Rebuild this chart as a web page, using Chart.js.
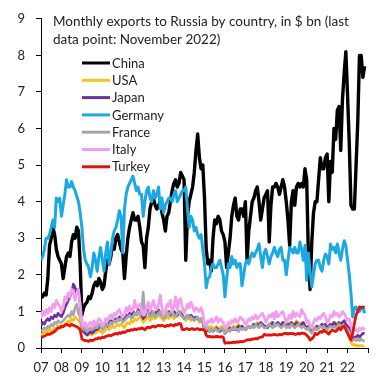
<!DOCTYPE html>
<html><head><meta charset="utf-8">
<script src="https://cdn.jsdelivr.net/npm/chart.js@4.4.0/dist/chart.umd.min.js"></script>
<style>html,body{margin:0;padding:0;background:#fff}#wrap{width:383px;height:380px;position:relative}</style>
</head><body><div id="wrap"><canvas id="c" width="383" height="380"></canvas></div>
<script>
// Year tick labels (first month of each year)
const yearLabels = ['07','08','09','10','11','12','13','14','15','16','17','18','19','20','21','22'];
const titleLines = ['Monthly exports to Russia by country, in $ bn (last', 'data point: November 2022)'];
const seriesNames = ['China','USA','Japan','Germany','France','Italy','Turkey'];

// Monthly values, $ bn, Jan 2007 .. Nov 2022
const china = [
 1.45,1.4,1.5,1.45,1.9,2.8,3.0,3.3,3.1,2.7,2.5,2.4,
 2.3,1.9,2.2,2.5,2.6,2.5,2.9,3.1,3.0,3.3,3.2,2.3,
 0.9,1.1,1.2,1.25,1.4,1.35,1.5,1.7,1.8,1.7,1.9,1.8,
 1.6,1.7,2.1,2.4,2.3,2.5,2.8,2.7,3.0,3.1,2.9,2.7,
 2.6,1.9,2.5,3.0,3.3,3.5,3.7,3.5,3.5,3.6,3.3,2.9,
 2.8,2.2,3.0,3.3,3.8,4.0,4.1,3.9,3.8,3.9,4.0,3.7,
 3.5,3.2,3.6,3.7,4.0,4.3,4.5,4.6,4.4,4.5,4.8,4.7,
 4.6,2.4,3.6,4.0,4.2,4.4,4.8,5.4,5.85,5.2,4.9,5.0,
 4.1,2.7,2.3,2.4,2.1,3.0,3.5,3.4,3.6,3.5,3.2,3.1,
 2.9,2.2,2.6,3.0,3.6,3.9,4.1,3.6,3.5,3.8,3.8,3.6,
 4.0,2.4,3.2,3.6,4.0,4.1,4.3,4.4,4.0,3.5,3.8,4.1,
 4.2,4.3,2.9,3.9,4.4,4.4,4.5,4.4,4.2,4.4,4.6,4.4,
 4.0,3.5,2.8,4.0,4.3,3.9,4.4,4.5,4.4,4.5,4.4,4.9,
 4.6,2.5,1.6,2.9,3.7,4.0,4.0,4.6,5.2,4.9,4.9,5.2,
 5.3,4.0,5.1,4.8,6.0,5.7,6.5,6.6,5.4,6.8,7.5,8.1,
 6.9,5.6,3.9,3.8,3.8,5.0,6.2,8.0,8.0,7.4,7.7
];
const usa = [
 0.35,0.4,0.45,0.4,0.45,0.5,0.45,0.5,0.55,0.5,0.6,0.55,
 0.55,0.6,0.65,0.7,0.75,0.7,0.8,0.75,0.85,0.8,0.75,0.7,
 0.5,0.45,0.4,0.45,0.35,0.4,0.35,0.45,0.4,0.45,0.5,0.45,
 0.4,0.45,0.5,0.55,0.5,0.55,0.6,0.55,0.6,0.65,0.6,0.65,
 0.6,0.55,0.65,0.7,0.65,0.75,0.7,0.8,0.75,0.8,0.85,0.8,
 0.7,0.75,0.8,0.85,0.75,0.8,0.9,0.8,0.85,0.9,0.85,0.8,
 0.75,0.8,0.85,0.8,0.9,0.85,0.8,0.9,0.85,0.95,1.0,0.85,
 0.8,0.75,0.8,0.85,0.75,0.8,0.75,0.8,0.85,0.7,0.75,0.7,
 0.6,0.55,0.6,0.55,0.6,0.5,0.55,0.6,0.5,0.55,0.6,0.55,
 0.5,0.55,0.6,0.55,0.5,0.6,0.55,0.6,0.65,0.55,0.6,0.55,
 0.5,0.55,0.6,0.55,0.6,0.65,0.6,0.7,0.65,0.6,0.65,0.6,
 0.55,0.6,0.65,0.7,0.65,0.6,0.65,0.7,0.65,0.6,0.7,0.65,
 0.6,0.65,0.7,0.65,0.6,0.65,0.75,0.7,0.65,0.7,0.65,0.6,
 0.55,0.6,0.5,0.45,0.55,0.5,0.6,0.55,0.6,0.65,0.6,0.55,
 0.55,0.6,0.65,0.6,0.65,0.7,0.65,0.6,0.65,0.7,0.65,0.6,
 0.55,0.5,0.15,0.08,0.1,0.05,0.08,0.05,0.07,0.05,0.05
];
const japan = [
 0.6,0.7,0.65,0.75,0.8,0.75,0.85,0.8,0.9,0.85,0.95,0.9,
 0.85,0.95,1.1,1.2,1.3,1.4,1.5,1.75,1.65,1.5,1.6,1.2,
 0.6,0.45,0.4,0.35,0.4,0.45,0.4,0.45,0.5,0.5,0.55,0.6,
 0.55,0.6,0.65,0.6,0.7,0.75,0.7,0.75,0.8,0.75,0.85,0.8,
 0.75,0.8,0.9,0.85,0.95,0.9,1.0,0.95,0.9,1.05,0.95,0.9,
 0.8,0.85,0.95,1.05,0.9,1.0,0.95,0.9,1.0,1.05,0.95,0.9,
 0.85,0.9,0.95,1.0,0.9,0.95,1.0,0.95,0.9,1.0,0.95,0.9,
 0.8,0.85,0.9,0.85,0.9,0.85,0.8,0.85,0.8,0.75,0.8,0.7,
 0.5,0.45,0.5,0.45,0.5,0.45,0.5,0.55,0.5,0.45,0.5,0.5,
 0.4,0.45,0.5,0.55,0.5,0.55,0.5,0.55,0.6,0.55,0.6,0.55,
 0.5,0.55,0.6,0.55,0.6,0.65,0.6,0.65,0.6,0.7,0.65,0.6,
 0.6,0.55,0.65,0.6,0.7,0.6,0.65,0.7,0.65,0.6,0.7,0.65,
 0.6,0.65,0.6,0.7,0.65,0.6,0.7,0.65,0.6,0.65,0.7,0.6,
 0.55,0.6,0.5,0.45,0.5,0.55,0.6,0.55,0.6,0.65,0.6,0.65,
 0.55,0.6,0.65,0.6,0.7,0.65,0.6,0.7,0.65,0.7,0.75,0.65,
 0.6,0.55,0.3,0.25,0.3,0.3,0.35,0.3,0.35,0.4,0.4
];
const germany = [
 2.4,2.5,2.7,3.0,3.0,3.1,3.3,3.5,3.3,4.1,4.0,4.1,
 3.6,3.9,4.2,4.6,4.4,4.4,4.55,4.4,4.3,4.15,4.0,3.7,
 3.3,2.7,2.4,2.3,2.2,1.95,2.2,2.6,2.4,2.1,2.5,2.75,
 2.4,2.1,2.6,2.9,2.3,2.6,3.0,3.2,3.3,3.5,3.75,3.6,
 2.6,3.8,4.2,4.4,4.5,4.6,4.7,4.5,4.3,4.4,4.2,4.2,
 3.6,4.0,4.3,4.4,4.1,4.0,4.3,4.1,4.2,4.4,3.8,4.1,
 3.7,3.9,4.0,4.1,4.1,4.0,4.2,4.3,4.0,4.1,4.2,4.3,
 4.3,4.4,3.8,3.3,3.6,3.5,3.2,3.3,3.1,3.0,3.1,2.7,
 2.3,1.65,1.9,1.95,2.2,2.3,2.2,2.2,2.3,2.4,2.2,2.0,
 1.4,1.9,2.3,2.2,2.5,2.3,2.4,2.2,2.3,2.3,1.7,2.0,
 2.3,2.4,2.3,2.5,2.6,2.5,2.6,2.7,2.85,2.5,2.2,2.6,
 2.7,2.5,2.3,2.5,2.6,2.75,2.6,2.5,2.7,2.75,2.4,2.4,
 2.0,2.4,2.75,2.7,2.6,2.75,2.6,2.6,2.9,2.7,2.4,2.8,
 1.85,2.6,2.1,1.67,2.0,2.3,2.4,2.4,2.2,2.1,2.4,2.57,
 2.5,2.3,2.84,2.7,2.75,2.6,2.84,2.6,2.4,2.7,2.93,2.8,
 2.4,2.0,1.5,0.85,1.1,1.12,1.0,1.0,1.1,1.12,0.95
];
const france = [
 0.45,0.5,0.55,0.5,0.6,0.55,0.65,0.6,0.7,0.65,0.75,0.7,
 0.7,0.75,0.8,0.85,0.9,0.85,1.0,0.9,1.1,1.2,0.95,0.85,
 0.55,0.5,0.55,0.45,0.5,0.55,0.5,0.55,0.6,0.55,0.65,0.6,
 0.5,0.55,0.6,0.65,0.6,0.7,0.65,0.75,0.7,0.8,0.75,0.8,
 0.7,0.75,0.8,0.85,0.9,0.8,0.85,0.95,0.9,1.0,0.9,0.95,
 1.53,0.9,1.0,0.95,0.85,0.9,1.0,0.85,0.9,0.95,1.0,0.9,
 0.8,0.85,1.0,0.9,0.95,1.0,0.9,0.85,0.95,1.0,0.9,0.85,
 0.8,0.85,0.9,0.8,0.85,0.8,0.75,0.8,0.85,0.75,0.8,0.7,
 0.55,0.5,0.55,0.45,0.5,0.45,0.55,0.5,0.45,0.5,0.55,0.5,
 0.4,0.45,0.5,0.45,0.55,0.5,0.55,0.5,0.45,0.55,0.5,0.55,
 0.5,0.55,0.6,0.55,0.6,0.55,0.65,0.6,0.55,0.65,0.6,0.55,
 0.55,0.6,0.65,0.6,0.55,0.65,0.6,0.65,0.6,0.55,0.6,0.65,
 0.55,0.6,0.55,0.65,0.6,0.55,0.6,0.65,0.6,0.55,0.6,0.55,
 0.5,0.55,0.45,0.4,0.5,0.55,0.5,0.55,0.6,0.55,0.6,0.55,
 0.5,0.55,0.6,0.55,0.6,0.55,0.6,0.65,0.6,0.55,0.6,0.55,
 0.5,0.45,0.25,0.2,0.25,0.2,0.25,0.2,0.25,0.2,0.2
];
const italy = [
 0.8,1.0,0.9,1.05,0.95,1.1,1.0,1.2,1.1,1.3,1.2,1.15,
 1.0,1.1,1.4,1.3,1.5,1.4,1.6,1.55,1.3,1.5,1.6,1.2,
 0.7,0.6,0.7,0.55,0.65,0.7,0.6,0.75,0.65,0.7,0.8,0.75,
 0.6,0.65,0.8,0.75,0.85,0.9,0.8,0.95,0.9,1.0,1.05,0.95,
 0.85,0.9,1.1,1.0,1.15,1.0,1.05,1.3,1.1,1.15,1.2,1.05,
 0.9,0.95,1.1,1.25,1.0,1.15,1.3,1.1,1.05,1.2,1.45,1.1,
 0.9,1.0,1.2,1.15,1.3,1.0,1.1,1.4,1.05,1.3,1.35,1.1,
 0.95,1.05,1.2,1.1,1.25,1.15,1.0,1.1,1.05,1.0,1.1,0.95,
 0.65,0.6,0.75,0.7,0.8,0.7,0.75,0.85,0.7,0.8,0.75,0.7,
 0.55,0.6,0.7,0.65,0.75,0.7,0.8,0.7,0.75,0.85,0.8,0.75,
 0.65,0.7,0.8,0.75,0.85,0.8,0.9,0.8,0.85,0.9,0.95,0.85,
 0.7,0.8,0.9,0.85,0.95,0.8,1.0,0.85,0.9,0.95,1.0,0.85,
 0.7,0.8,0.9,0.8,1.0,0.85,0.95,0.9,0.85,1.05,0.95,0.9,
 0.7,0.75,0.6,0.55,0.7,0.8,0.75,0.85,0.8,0.9,0.95,0.85,
 0.7,0.75,0.9,0.85,1.0,0.9,0.95,0.85,0.9,1.0,0.95,0.85,
 0.75,0.8,0.6,0.45,0.5,0.5,0.45,0.55,0.5,0.55,0.5
];
const turkey = [
 0.28,0.3,0.33,0.35,0.38,0.37,0.4,0.42,0.45,0.5,0.55,0.55,
 0.6,0.58,0.62,0.65,0.63,0.6,0.65,0.62,0.6,0.58,0.55,0.5,
 0.25,0.22,0.2,0.2,0.18,0.22,0.2,0.22,0.25,0.25,0.28,0.26,
 0.3,0.28,0.32,0.33,0.35,0.33,0.36,0.38,0.4,0.38,0.42,0.4,
 0.44,0.42,0.45,0.48,0.47,0.5,0.49,0.52,0.5,0.53,0.52,0.55,
 0.53,0.5,0.55,0.57,0.55,0.58,0.6,0.57,0.6,0.62,0.6,0.62,
 0.6,0.58,0.62,0.6,0.64,0.62,0.6,0.65,0.63,0.67,0.66,0.5,
 0.5,0.52,0.53,0.5,0.52,0.53,0.5,0.52,0.53,0.5,0.51,0.5,
 0.49,0.35,0.31,0.32,0.3,0.31,0.3,0.32,0.31,0.3,0.31,0.3,
 0.13,0.14,0.15,0.14,0.15,0.16,0.15,0.17,0.16,0.18,0.17,0.18,
 0.2,0.22,0.23,0.22,0.25,0.24,0.26,0.25,0.28,0.3,0.3,0.37,
 0.36,0.35,0.36,0.35,0.36,0.37,0.36,0.35,0.37,0.36,0.38,0.4,
 0.4,0.38,0.4,0.39,0.4,0.37,0.38,0.4,0.38,0.41,0.4,0.39,
 0.35,0.3,0.22,0.25,0.3,0.4,0.37,0.4,0.45,0.43,0.49,0.45,
 0.42,0.38,0.45,0.49,0.47,0.45,0.5,0.55,0.5,0.58,0.6,0.5,
 0.4,0.3,0.22,0.4,0.67,0.9,1.0,1.12,1.1,1.12,1.1
];

const seriesValues = [china, usa, japan, germany, france, italy, turkey];
const seriesColors = ['#000000','#f2c318','#7030a0','#1ba8e3','#a6a6a6','#f49cf0','#e3120b'];
const seriesWidths = [3.4, 2.6, 2.6, 3.0, 2.6, 2.8, 2.8];

const FONT = 'Lato, "Open Sans", sans-serif';

const datasets = seriesNames.map((name, i) => ({
  label: name,
  data: seriesValues[i].map((v, m) => ({x: m, y: v})),
  borderColor: seriesColors[i],
  backgroundColor: seriesColors[i],
  borderWidth: seriesWidths[i],
  pointRadius: 0,
  tension: 0,
  borderJoinStyle: 'round',
  order: seriesNames.length - i
}));

const overlay = {
  id: 'overlay',
  afterDraw(chart) {
    const ctx = chart.ctx;
    ctx.save();
    ctx.fillStyle = '#222';
    ctx.font = '13.5px ' + FONT;
    ctx.textBaseline = 'middle';
    ctx.textAlign = 'left';
    ctx.fillText(titleLines[0], 53, 22);
    ctx.fillText(titleLines[1], 53, 40);
    ctx.font = '13px ' + FONT;
    chart.data.datasets.forEach((ds, i) => {
      const y = 63 + i * 17.3;
      ctx.strokeStyle = ds.borderColor;
      ctx.lineWidth = 3;
      ctx.beginPath();
      ctx.moveTo(82, y);
      ctx.lineTo(110, y);
      ctx.stroke();
      ctx.fillStyle = '#222';
      ctx.fillText(ds.label, 112, y + 0.5);
    });
    ctx.restore();
  }
};

new Chart(document.getElementById('c'), {
  type: 'line',
  data: { datasets },
  plugins: [overlay],
  options: {
    responsive: false,
    animation: false,
    layout: { padding: { top: 17, right: 15, left: 0, bottom: 0 } },
    plugins: { legend: { display: false }, title: { display: false }, tooltip: { enabled: false } },
    scales: {
      x: {
        type: 'linear', min: 0, max: 192,
        afterFit(s) { s.height = 32; },
        grid: { drawOnChartArea: false, drawTicks: true, tickLength: 5, color: '#000' },
        border: { display: true, color: '#000', width: 1 },
        ticks: {
          stepSize: 12, autoSkip: false, maxRotation: 0, padding: 7,
          color: '#222', font: { family: FONT, size: 13 },
          callback: (v) => (v % 12 === 0 && v / 12 < yearLabels.length) ? yearLabels[v / 12] : ''
        }
      },
      y: {
        min: 0, max: 9,
        afterFit(s) { s.width = 41; },
        grid: { drawOnChartArea: false, drawTicks: true, tickLength: 5, color: '#000' },
        border: { display: true, color: '#000', width: 1 },
        ticks: { stepSize: 1, padding: 11, color: '#222', font: { family: FONT, size: 13 } }
      }
    }
  }
});
</script></body></html>
